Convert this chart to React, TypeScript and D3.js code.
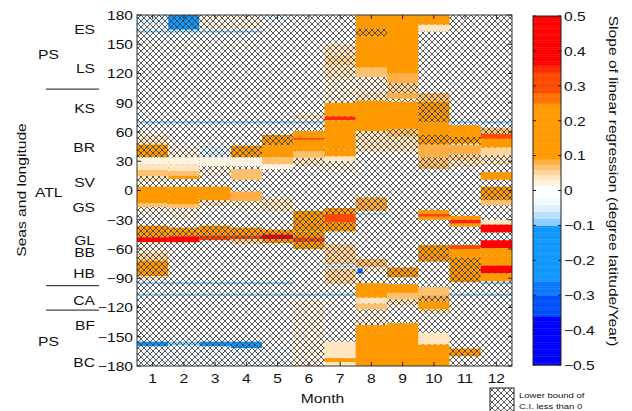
import React from 'react';
import * as d3 from 'd3';

const months = [1, 2, 3, 4, 5, 6, 7, 8, 9, 10, 11, 12];
const lonTicks = [180, 150, 120, 90, 60, 30, 0, -30, -60, -90, -120, -150, -180];
const slopeTicks = [0.5, 0.4, 0.3, 0.2, 0.1, 0, -0.1, -0.2, -0.3, -0.4, -0.5];

// discrete colormap of the slope
const cmapBreaks = [-0.36, -0.3, -0.26, -0.1, -0.08, -0.06, -0.04, -0.02, 0.015, 0.03, 0.045, 0.06, 0.075, 0.09, 0.25, 0.28, 0.34, 0.36];
const cmapColors = ['#0000ff', '#0050ff', '#0a78ff', '#1098ff', '#8cceff', '#b8e0ff', '#dff0ff', '#f2f9ff', '#ffffff',
  '#fff4e2', '#ffe6c0', '#ffd49a', '#ffc170', '#ffad45', '#ff9900', '#ff7000', '#ff4800', '#ff2800', '#ff0000'];

// [lon top, lon bottom, slope, hatched (lower bound of C.I. < 0)]
const m01 = [
  [180, 170, -0.05, 1], [170, 164, -0.03, 1], [57, 47, 0.03, 1], [47, 34, 0.15, 1], [34, 27, 0.02, 0],
  [27, 21, 0.04, 0], [21, 15, 0.07, 0], [15, 9, 0.03, 1], [4, -13, 0.15, 0], [-13, -17, 0.07, 0],
  [-17, -24, 0.02, 1], [-36, -48, 0.12, 1], [-48, -53, 0.45, 0], [-53, -64, 0.02, 1], [-64, -72, 0.05, 1],
  [-72, -88, 0.12, 1], [-88, -92, 0.04, 1], [-155, -160, -0.18, 1], [-160, -180, -0.04, 1],
];
const m02 = [
  [180, 165, -0.2, 1], [46, 34, 0.02, 1], [34, 27, 0.02, 0], [27, 20, 0.04, 0], [20, 15, 0.07, 0],
  [15, 12, 0.09, 0], [4, -14, 0.15, 0], [-14, -18, 0.06, 0], [-18, -30, 0.02, 1], [-38, -47, 0.1, 1],
  [-47, -53, 0.45, 0], [-155, -159, -0.09, 1], [-160, -180, -0.03, 1],
];
const m03 = [
  [180, 165, 0.02, 1], [46, 34, -0.05, 1], [34, 25, 0.02, 0], [25, 14, 0.02, 1], [4, -10, 0.15, 0],
  [-10, -16, 0.03, 1], [-36, -46, 0.1, 1], [-46, -51, 0.3, 1], [-155, -160, -0.18, 1], [-160, -180, -0.03, 1],
];
const m04 = [
  [180, 165, 0.02, 1], [46, 34, 0.14, 1], [34, 25, 0.02, 0], [22, 11, 0.06, 0], [-1, -11, 0.08, 0],
  [-11, -20, 0.02, 1], [-38, -46, 0.1, 1], [-46, -50, 0.3, 1], [-50, -55, 0.05, 1], [-155, -162, -0.2, 1],
  [-162, -180, -0.04, 1],
];
const m05 = [
  [180, 172, -0.03, 1], [57, 46, 0.13, 1], [46, 34, 0.15, 0], [34, 27, 0.07, 0], [27, 22, 0.02, 0],
  [-8, -21, 0.03, 1], [-40, -45, 0.12, 1], [-45, -50, 0.4, 1], [-50, -54, 0.1, 1], [-160, -180, -0.03, 1],
];
const m06 = [
  [78, 73, 0.03, 1], [61, 54, 0.15, 0], [54, 52, 0.32, 0], [52, 40, 0.15, 0], [40, 33, 0.07, 0],
  [33, 25, 0.03, 1], [-21, -42, 0.12, 1], [-42, -48, 0.15, 1], [-48, -53, 0.3, 1], [-53, -60, 0.12, 1],
  [-112, -180, 0.02, 1],
];
const m07 = [
  [150, 138, 0.03, 1], [138, 128, 0.05, 1], [128, 115, 0.03, 1], [115, 92, 0.02, 1], [90, 76, 0.15, 0],
  [76, 72, 0.35, 0], [72, 42, 0.15, 0], [42, 35, 0.09, 0], [35, 30, 0.04, 0], [30, 20, 0.02, 1],
  [-18, -24, 0.12, 1], [-24, -33, 0.3, 0], [-33, -42, 0.12, 1], [-55, -76, 0.05, 1], [-80, -96, 0.05, 1],
  [-155, -172, 0.03, 0], [-172, -176, 0.1, 0], [-176, -180, 0.03, 0],
];
const m08 = [
  [180, 166, 0.15, 0], [166, 158, 0.14, 1], [158, 126, 0.15, 0], [126, 116, 0.07, 0], [116, 100, 0.02, 1],
  [100, 92, 0.04, 1], [92, 61, 0.15, 0], [61, 40, 0.04, 1], [-7, -21, 0.08, 1], [-70, -79, 0.07, 1],
  [-79, -86, 0.02, 1], [-95, -103, 0.15, 0], [-103, -110, 0.12, 0], [-110, -116, 0.04, 0], [-116, -122, 0.06, 0],
  [-122, -138, 0.02, 1], [-138, -146, 0.09, 0], [-146, -180, 0.15, 0],
];
const m09 = [
  [180, 120, 0.15, 0], [120, 110, 0.08, 0], [110, 100, 0.05, 1], [100, 94, 0.08, 0], [94, 91, 0.02, 1],
  [91, 63, 0.15, 0], [63, 55, 0.06, 1], [55, 40, 0.03, 1], [-79, -89, 0.13, 1], [-96, -105, 0.15, 0],
  [-105, -112, 0.06, 0], [-112, -118, 0.03, 1], [-136, -180, 0.15, 0],
];
const m10 = [
  [180, 170, 0.15, 0], [170, 163, 0.03, 0], [100, 91, 0.06, 1], [91, 70, 0.12, 1], [70, 57, 0.15, 0],
  [57, 47, 0.1, 1], [47, 34, 0.08, 0], [34, 22, 0.06, 1], [-20, -24, 0.15, 0], [-24, -27, 0.3, 0],
  [-27, -30, 0.12, 0], [-56, -64, 0.15, 1], [-64, -73, 0.1, 1], [-99, -108, 0.07, 0], [-108, -114, 0.08, 1],
  [-114, -122, 0.14, 0], [-122, -127, 0.04, 1], [-146, -158, 0.03, 0], [-158, -180, 0.15, 0],
];
const m11 = [
  [112, 108, -0.03, 1], [67, 63, 0.22, 0], [63, 55, 0.15, 0], [55, 48, 0.1, 1], [47, 37, 0.08, 0],
  [37, 30, 0.05, 1], [30, 24, 0.03, 1], [-26, -30, 0.12, 0], [-30, -34, 0.35, 0], [-34, -37, 0.1, 0],
  [-56, -60, 0.28, 0], [-60, -69, 0.15, 0], [-69, -94, 0.12, 1], [-162, -170, 0.13, 1],
];
const m12 = [
  [112, 108, -0.03, 1], [64, 58, 0.07, 1], [58, 53, 0.28, 0], [53, 44, 0.15, 0], [44, 36, 0.05, 0],
  [36, 26, 0.03, 1], [19, 11, 0.15, 0], [4, -10, 0.1, 1], [-10, -15, 0.06, 0], [-30, -35, 0.03, 0],
  [-35, -43, 0.45, 0], [-51, -59, 0.45, 0], [-59, -67, 0.15, 0], [-67, -77, 0.1, 0], [-77, -85, 0.45, 0],
  [-85, -93, 0.15, 0],
];
const monthSegments = [m01, m02, m03, m04, m05, m06, m07, m08, m09, m10, m11, m12];

// thin bands repeated over several months: [lon top, lon bottom, slope, months]
const thinBands: [number, number, number, number[]][] = [
  [164, 162, -0.09, [1, 2, 3, 4]],
  [71, 69, -0.09, [1, 2, 3, 4, 5, 6, 11, 12]],
  [-94, -96, -0.09, [1, 2, 3, 4, 5, 12]],
  [-106, -108, -0.09, [1, 2, 3, 4, 5, 6, 7, 11, 12]],
  [-23, -25, -0.07, [8]],
  [-77, -79, -0.07, [7]],
];
// single cell: [month, lon top, lon bottom, slope]
const singleCells = [[8, -80, -85, -0.35]];

// sea labels: [name, lon of baseline]
const seaLabels: [string, number][] = [
  ['ES', 160.5], ['LS', 120.5], ['KS', 79.8], ['BR', 39.8], ['SV', 3.9], ['GS', -21.7], ['GL', -55.9],
  ['BB', -68.5], ['HB', -90], ['CA', -117.4], ['BF', -143], ['BC', -180.7],
];
const regionLabels: [string, number][] = [['PS', 134.9], ['ATL', -6.4], ['PS', -159.2]];
const regionDividers = [104, -97.6, -122.6];

const W = 632, H = 411;
const plot = { left: 137, right: 512, top: 15, bottom: 366 };
const cbar = { left: 533, right: 561, top: 16, bottom: 365 };
const FONT = "'Liberation Sans', Arial, Helvetica, sans-serif";
const STRETCH = 1.25;

const color = d3.scaleThreshold<number, string>().domain(cmapBreaks).range(cmapColors);
const x = d3.scaleBand<number>().domain(months).range([plot.left, plot.right]);
const y = d3.scaleLinear().domain([-180, 180]).range([plot.bottom, plot.top]);
const yc = d3.scaleLinear().domain([-0.5, 0.5]).range([cbar.bottom, cbar.top]);
const fmt = d3.format('');
const fmt1 = d3.format('.1f');

function Txt({ x, y, rot = 0, size = 12.5, anchor = 'start', children }: any) {
  return (
    <text transform={`translate(${x},${y}) rotate(${rot}) scale(${STRETCH},1)`} fontSize={size}
      textAnchor={anchor} fontFamily={FONT} fill="#111">{children}</text>
  );
}

export default function App() {
  const bw = x.bandwidth();
  const cbSteps = d3.range(-0.5, 0.5, 0.005);
  const rects: any[] = [];
  monthSegments.forEach((segs, i) => {
    const m = months[i];
    segs.forEach(([t, b, v, h], j) => {
      rects.push({ key: `s${m}-${j}`, x: x(m)!, y0: y(t), y1: y(b), fill: color(v), hatch: h === 1 });
    });
  });
  thinBands.forEach(([t, b, v, ms], j) => {
    ms.forEach(m => rects.push({ key: `t${m}-${j}`, x: x(m)!, y0: y(t), y1: y(b), fill: color(v), hatch: true }));
  });

  return (
    <div style={{ position: 'absolute', left: 0, top: 0 }}>
      <svg width={W} height={H} style={{ display: 'block', background: '#fff' }}>
        <defs>
          <pattern id="hatch" patternUnits="userSpaceOnUse" width={6} height={6}>
            <path d="M0,0L6,6M6,0L0,6" stroke="#3c3c3c" strokeWidth={0.85} fill="none" />
          </pattern>
          <clipPath id="plotclip">
            <rect x={plot.left} y={plot.top} width={plot.right - plot.left} height={plot.bottom - plot.top} />
          </clipPath>
        </defs>

        {/* heat map */}
        <g clipPath="url(#plotclip)">
          <rect x={plot.left} y={plot.top} width={plot.right - plot.left} height={plot.bottom - plot.top} fill="#fff" />
          <rect x={plot.left} y={plot.top} width={plot.right - plot.left} height={plot.bottom - plot.top} fill="url(#hatch)" />
          {rects.map(r => (
            <g key={r.key}>
              <rect x={r.x} y={r.y0} width={bw} height={r.y1 - r.y0} fill={r.fill} />
              {r.hatch && <rect x={r.x} y={r.y0} width={bw} height={r.y1 - r.y0} fill="url(#hatch)" />}
            </g>
          ))}
          {singleCells.map(([m, t, b, v], i) => (
            <rect key={`c${i}`} x={x(m)! + bw * 0.06} y={y(t)} width={bw * 0.16} height={y(b) - y(t)} fill={color(v)} />
          ))}
        </g>

        {/* frame and ticks */}
        <rect x={plot.left} y={plot.top} width={plot.right - plot.left} height={plot.bottom - plot.top}
          fill="none" stroke="#333" strokeWidth={1} />
        {lonTicks.map(t => (
          <g key={`yt${t}`}>
            <line x1={plot.left} x2={plot.left + 4} y1={y(t)} y2={y(t)} stroke="#222" />
            <line x1={plot.right - 4} x2={plot.right} y1={y(t)} y2={y(t)} stroke="#222" />
            <Txt x={plot.left - 4} y={y(t) + 4.8} anchor="end">{fmt(t)}</Txt>
          </g>
        ))}
        {months.map(m => (
          <g key={`xt${m}`}>
            <line x1={x(m)! + bw / 2} x2={x(m)! + bw / 2} y1={plot.bottom} y2={plot.bottom - 4} stroke="#222" />
            <line x1={x(m)! + bw / 2} x2={x(m)! + bw / 2} y1={plot.top} y2={plot.top + 4} stroke="#222" />
            <Txt x={x(m)! + bw / 2} y={383} anchor="middle">{m}</Txt>
          </g>
        ))}
        <Txt x={(plot.left + plot.right) / 2 - 2} y={403} anchor="middle">Month</Txt>
        <Txt x={26} y={190} rot={-90} anchor="middle">Seas and longitude</Txt>

        {/* sea labels */}
        {seaLabels.map(([s, lon], i) => (
          <Txt key={`sea${i}`} x={95} y={y(lon)} anchor="end">{s}</Txt>
        ))}
        {regionLabels.map(([s, lon], i) => (
          <Txt key={`reg${i}`} x={s === 'ATL' ? 35 : 38} y={y(lon)}>{s}</Txt>
        ))}
        {regionDividers.map((lon, i) => (
          <line key={`div${i}`} x1={46} x2={99} y1={y(lon)} y2={y(lon)} stroke="#444" strokeWidth={1.2} />
        ))}

        {/* colorbar */}
        {cbSteps.map((v, i) => (
          <rect key={`cb${i}`} x={cbar.left} y={yc(v + 0.005)} width={cbar.right - cbar.left}
            height={yc(v) - yc(v + 0.005) + 0.4} fill={color(v + 0.0025)} />
        ))}
        <rect x={cbar.left} y={cbar.top} width={cbar.right - cbar.left} height={cbar.bottom - cbar.top}
          fill="none" stroke="#222" />
        {slopeTicks.map(t => (
          <g key={`ct${t}`}>
            <line x1={cbar.left} x2={cbar.left + 3} y1={yc(t)} y2={yc(t)} stroke="#222" />
            <line x1={cbar.right - 3} x2={cbar.right} y1={yc(t)} y2={yc(t)} stroke="#222" />
            <Txt x={cbar.right + 3} y={yc(t) + 4.8}>{t === 0 ? '0' : fmt1(t)}</Txt>
          </g>
        ))}
        <Txt x={609} y={181} rot={90} anchor="middle">Slope of linear regression (degree latitude/Year)</Txt>

        {/* legend */}
        <rect x={490} y={388} width={24} height={26} fill="#fff" />
        <rect x={490} y={388} width={24} height={26} fill="url(#hatch)" stroke="#222" />
        <Txt x={519} y={398} size={7.6}>Lower bound of</Txt>
        <Txt x={519} y={409} size={7.6}>C.I. less than 0</Txt>
      </svg>
    </div>
  );
}
